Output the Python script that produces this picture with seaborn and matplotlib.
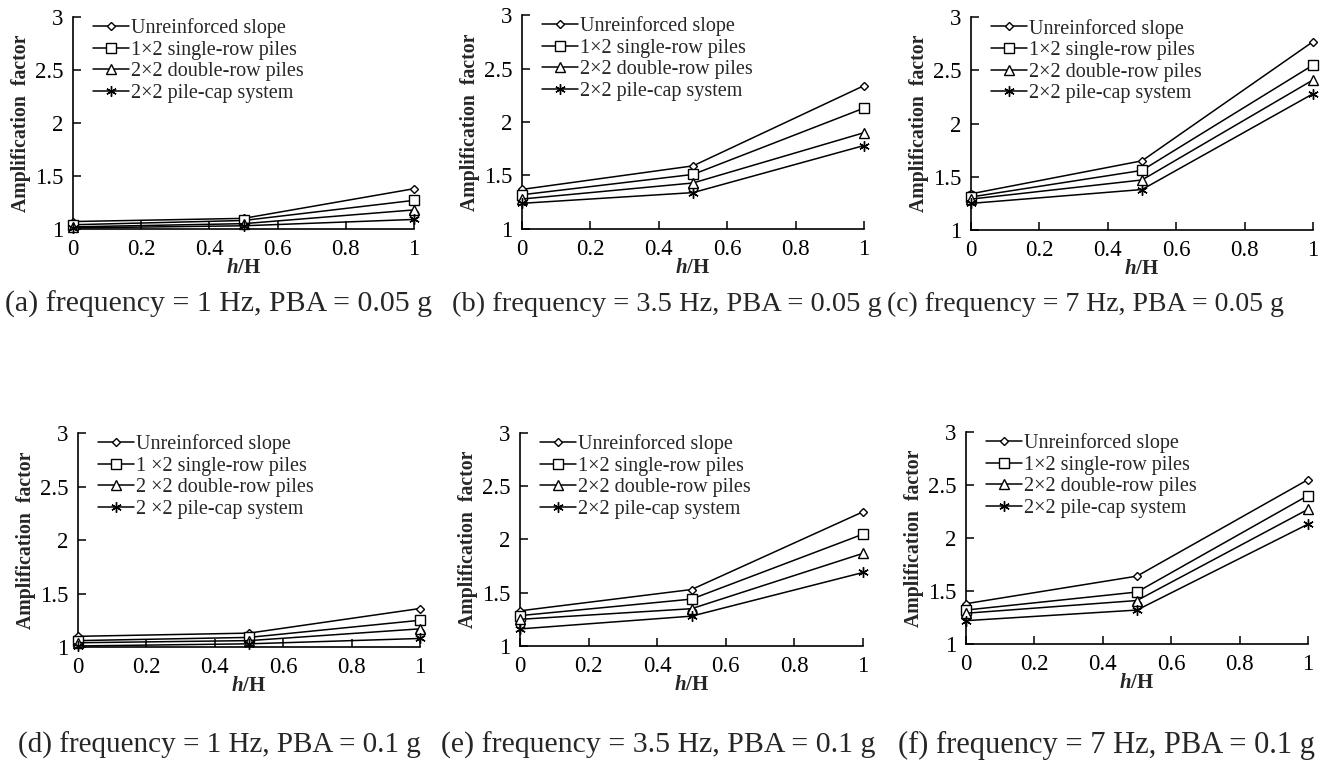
import numpy as np
import pandas as pd
import seaborn as sns
import matplotlib
matplotlib.use('Agg')
import matplotlib.pyplot as plt

# relative height h/H
h_ratio = [0, 0.5, 1]

series = ['Unreinforced slope', '1×2 single-row piles',
          '2×2 double-row piles', '2×2 pile-cap system']
series_d = ['Unreinforced slope', '1 ×2 single-row piles',
            '2 ×2 double-row piles', '2 ×2 pile-cap system']

# amplification factor, one list per series, one block per panel
a_unre = [1.07, 1.10, 1.38]
a_single = [1.04, 1.08, 1.27]
a_double = [1.02, 1.05, 1.18]
a_cap = [1.01, 1.03, 1.09]

b_unre = [1.37, 1.59, 2.34]
b_single = [1.32, 1.51, 2.13]
b_double = [1.28, 1.43, 1.90]
b_cap = [1.24, 1.34, 1.78]

c_unre = [1.34, 1.65, 2.77]
c_single = [1.31, 1.56, 2.55]
c_double = [1.29, 1.47, 2.41]
c_cap = [1.25, 1.38, 2.28]

d_unre = [1.10, 1.13, 1.36]
d_single = [1.06, 1.09, 1.25]
d_double = [1.04, 1.06, 1.17]
d_cap = [1.01, 1.03, 1.08]

e_unre = [1.33, 1.53, 2.26]
e_single = [1.285, 1.44, 2.05]
e_double = [1.25, 1.35, 1.87]
e_cap = [1.16, 1.28, 1.69]

f_unre = [1.38, 1.64, 2.55]
f_single = [1.32, 1.49, 2.40]
f_double = [1.29, 1.41, 2.27]
f_cap = [1.22, 1.32, 2.13]

# stray open markers seen in the figure (h/H, value)
a_stray_x, a_stray_y = [0.5, 1], [1.06, 1.14]
b_stray_x, b_stray_y = [0, 0.5], [1.30, 1.38]
c_stray_x, c_stray_y = [0], [1.33]
d_stray_x, d_stray_y = [0.5, 1], [1.08, 1.13]
e_stray_x, e_stray_y = [0, 0.5], [1.21, 1.32]
f_stray_x, f_stray_y = [0, 0.5], [1.26, 1.37]

captions = ['(a) frequency = 1 Hz, PBA = 0.05 g',
            '(b) frequency = 3.5 Hz, PBA = 0.05 g',
            '(c) frequency = 7 Hz, PBA = 0.05 g',
            '(d) frequency = 1 Hz, PBA = 0.1 g',
            '(e) frequency = 3.5 Hz, PBA = 0.1 g',
            '(f) frequency = 7 Hz, PBA = 0.1 g']

panels = [
    (series, [a_unre, a_single, a_double, a_cap], a_stray_x, a_stray_y),
    (series, [b_unre, b_single, b_double, b_cap], b_stray_x, b_stray_y),
    (series, [c_unre, c_single, c_double, c_cap], c_stray_x, c_stray_y),
    (series_d, [d_unre, d_single, d_double, d_cap], d_stray_x, d_stray_y),
    (series, [e_unre, e_single, e_double, e_cap], e_stray_x, e_stray_y),
    (series, [f_unre, f_single, f_double, f_cap], f_stray_x, f_stray_y),
]

sns.set_style('ticks')
plt.rcParams['font.family'] = ['Liberation Serif', 'DejaVu Serif']
plt.rcParams['mathtext.fontset'] = 'custom'
plt.rcParams['mathtext.it'] = 'Liberation Serif:italic:bold'
plt.rcParams['mathtext.rm'] = 'Liberation Serif:bold'

fig = plt.figure(figsize=(13.28, 7.64), dpi=100)

# axes boxes [left, bottom, width, height] in figure fractions
boxes = [[0.0550, 0.7003, 0.2568, 0.2775],
         [0.3931, 0.7003, 0.2575, 0.2800],
         [0.7312, 0.6990, 0.2575, 0.2785],
         [0.0587, 0.1531, 0.2575, 0.2801],
         [0.3916, 0.1545, 0.2583, 0.2788],
         [0.7274, 0.1571, 0.2575, 0.2775]]
caption_pos = [(219, 304), (667, 304), (1085, 304),
               (219, 745), (658, 745), (1107, 745)]
caption_size = [21.5, 20.5, 20, 21, 21.5, 22]

markers = ['D', 's', '^', (6, 2, 0)]
msizes = [4, 6.5, 7, 7.5]

for i, (names, vals, sx, sy) in enumerate(panels):
    ax = fig.add_axes(boxes[i])
    df = pd.DataFrame({
        'h': np.tile(h_ratio, len(names)),
        'amp': np.concatenate(vals),
        'case': np.repeat(names, len(h_ratio)),
    })
    for j, name in enumerate(names):
        sub = df[df['case'] == name]
        sns.lineplot(data=sub, x='h', y='amp', ax=ax, color='black',
                     linewidth=1.1, marker=markers[j], markersize=msizes[j],
                     markerfacecolor='white', markeredgecolor='black',
                     markeredgewidth=1.0, label=name, clip_on=False, zorder=3)
    sns.scatterplot(x=sx, y=sy, ax=ax, marker='o', s=40, facecolor='white',
                    edgecolor='black', linewidth=1.0, clip_on=False,
                    zorder=2, legend=False)

    ax.set_xlim(0, 1)
    ax.set_ylim(1, 3)
    ax.set_xticks(np.arange(0, 1.01, 0.2))
    ax.set_xticklabels(['0', '0.2', '0.4', '0.6', '0.8', '1'])
    ax.set_yticks([1, 1.5, 2, 2.5, 3])
    ax.set_yticklabels(['1', '1.5', '2', '2.5', '3'])
    ax.tick_params(direction='in', length=6, width=1.1, labelsize=16.5,
                   colors='black')
    ax.tick_params(axis='x', pad=7)
    ax.tick_params(axis='y', pad=7)
    sns.despine(ax=ax)
    for s in ['left', 'bottom']:
        ax.spines[s].set_linewidth(1.2)
        ax.spines[s].set_color('black')

    ax.set_ylabel('Amplification  factor', fontsize=14.2, fontweight='bold',
                  labelpad=3)
    ax.set_xlabel(r'$\mathit{h}$/H', fontsize=15, fontweight='bold',
                  labelpad=-1)

    ax.legend(loc='upper left', bbox_to_anchor=(0.022, 1.05),
              frameon=False, fontsize=14.5, handlelength=1.8,
              handletextpad=0.1, labelspacing=0.12, borderaxespad=0.2)

    fig.text(caption_pos[i][0] / 1328, 1 - caption_pos[i][1] / 764,
             captions[i], ha='center', va='center',
             fontsize=caption_size[i])

fig.savefig('out.png', dpi=100)
